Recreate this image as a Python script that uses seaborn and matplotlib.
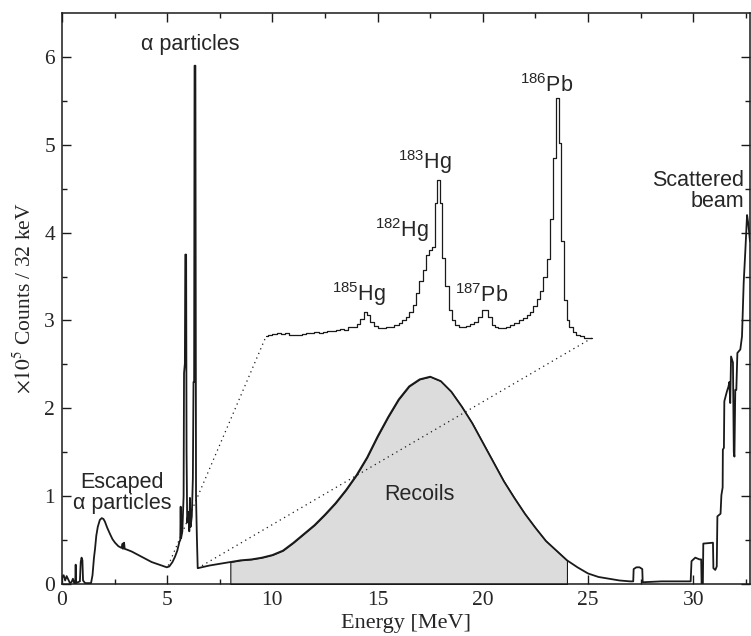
import numpy as np
import pandas as pd
import matplotlib
matplotlib.use('Agg')
import matplotlib.pyplot as plt
import seaborn as sns

# Spectrum (energy in MeV, counts in units of 1e5 / 32 keV)
energia = [0.00, 0.08, 0.15, 0.22, 0.30, 0.38, 0.45, 0.52, 0.58, 0.63, 0.65, 0.67, 0.75, 0.85,
           0.89, 0.93, 0.97, 1.00, 1.10, 1.38,
           1.45, 1.52, 1.57, 1.63, 1.70, 1.80, 1.89, 1.97, 2.04, 2.15, 2.28, 2.40, 2.52, 2.68,
           2.84, 2.88, 2.90, 2.95, 2.98, 3.10, 3.31, 3.55, 3.79, 4.02, 4.26, 4.50, 4.74, 4.98,
           5.10, 5.25, 5.37, 5.48, 5.58, 5.62, 5.64, 5.66, 5.72, 5.78, 5.80, 5.84, 5.86, 5.90,
           5.92, 5.95, 6.01, 6.05, 6.08, 6.11, 6.17, 6.22, 6.25, 6.28, 6.30, 6.34, 6.37, 6.41, 6.45,
           7.00, 7.50, 8.00, 8.50, 9.00, 9.50, 10.00, 10.50, 11.00, 11.50, 12.00, 12.50, 13.00,
           13.50, 14.00, 14.50, 15.00, 15.50, 16.00, 16.50, 17.00, 17.50, 18.00, 18.50, 19.00,
           19.50, 20.00, 20.50, 21.00, 21.50, 22.00, 22.50, 23.00, 23.50, 24.00, 24.50, 25.00,
           25.50, 26.00, 26.50, 27.00, 27.15, 27.17, 27.30, 27.45, 27.58, 27.60, 28.50,
           29.88, 29.92, 30.10, 30.30, 30.38, 30.40, 30.46, 30.48, 30.94, 30.96, 31.05, 31.12,
           31.15, 31.30, 31.34, 31.40, 31.41, 31.46, 31.48, 31.60, 31.68, 31.72, 31.76, 31.80,
           31.89, 31.93, 31.96, 32.00, 32.05, 32.10, 32.24, 32.32, 32.40, 32.48, 32.56, 32.62, 32.70]
cuentas = [0.07, 0.10, 0.04, 0.09, 0.05, 0.01, 0.02, 0.06, 0.01, 0.01, 0.22, 0.01, 0.02, 0.03,
           0.25, 0.30, 0.27, 0.04, 0.01, 0.01,
           0.10, 0.30, 0.40, 0.55, 0.65, 0.73, 0.75, 0.74, 0.71, 0.64, 0.57, 0.51, 0.47, 0.43,
           0.41, 0.46, 0.40, 0.47, 0.40, 0.39, 0.37, 0.34, 0.31, 0.28, 0.25, 0.23, 0.21, 0.19,
           0.20, 0.25, 0.31, 0.38, 0.48, 0.50, 0.88, 0.52, 0.60, 1.00, 2.40, 2.51, 3.75, 3.75,
           1.50, 0.70, 0.82, 0.60, 0.98, 0.65, 0.77, 1.20, 2.30, 2.30, 5.90, 5.90, 1.00, 0.54, 0.18,
           0.21, 0.23, 0.25, 0.27, 0.28, 0.30, 0.33, 0.38, 0.47, 0.57, 0.67, 0.79, 0.92,
           1.07, 1.24, 1.44, 1.68, 1.90, 2.10, 2.25, 2.33, 2.36, 2.31, 2.19, 2.02,
           1.83, 1.61, 1.39, 1.17, 0.98, 0.80, 0.64, 0.49, 0.38, 0.27, 0.19, 0.12,
           0.08, 0.06, 0.04, 0.03, 0.03, 0.17, 0.19, 0.19, 0.17, 0.02, 0.03,
           0.03, 0.26, 0.30, 0.28, 0.28, 0.00, 0.00, 0.46, 0.47, 0.18, 0.16, 0.20,
           0.77, 0.80, 1.01, 1.10, 1.53, 1.55, 2.08, 2.19, 2.25, 2.30, 2.06, 2.59,
           2.52, 1.50, 1.45, 2.21, 2.21, 2.63, 2.67, 2.82, 3.43, 3.80, 4.20, 4.10, 3.90]

# Magnified region drawn as an inset histogram on the same axes
zoom_energia = [9.70, 9.90, 10.10, 10.30, 10.50, 10.70, 10.90, 11.10, 11.30, 11.50, 11.70,
                11.90, 12.10, 12.30, 12.50, 12.70, 12.90, 13.10, 13.30, 13.50, 13.70, 13.90,
                14.10, 14.26, 14.42, 14.58, 14.74, 14.90, 15.10, 15.30, 15.50, 15.70, 15.90,
                16.10, 16.26, 16.42, 16.58, 16.74, 16.90, 17.06, 17.22, 17.38, 17.54, 17.66,
                17.78, 17.90, 18.02, 18.14, 18.30, 18.46, 18.62, 18.78, 18.94, 19.10, 19.30,
                19.50, 19.70, 19.86, 20.02, 20.18, 20.34, 20.50, 20.66, 20.82, 21.00, 21.20,
                21.40, 21.60, 21.80, 22.00, 22.16, 22.32, 22.48, 22.64, 22.80, 22.96, 23.12,
                23.28, 23.44, 23.56, 23.68, 23.80, 23.92, 24.04, 24.20, 24.36, 24.52, 24.70,
                24.90, 25.19]
zoom_cuentas = [2.82, 2.83, 2.85, 2.86, 2.85, 2.86, 2.84, 2.84, 2.83, 2.85, 2.86,
                2.86, 2.87, 2.86, 2.87, 2.88, 2.88, 2.89, 2.90, 2.89, 2.92, 2.93,
                2.96, 3.02, 3.10, 3.06, 2.98, 2.94, 2.91, 2.91, 2.92, 2.93, 2.95,
                2.97, 3.00, 3.04, 3.10, 3.18, 3.31, 3.45, 3.58, 3.75, 3.80, 3.84,
                4.34, 4.60, 4.34, 3.71, 3.39, 3.12, 3.00, 2.95, 2.93, 2.93, 2.94,
                2.96, 2.98, 3.04, 3.12, 3.12, 3.04, 2.95, 2.92, 2.91, 2.91, 2.93,
                2.95, 2.97, 3.00, 3.03, 3.06, 3.10, 3.16, 3.24, 3.34, 3.50, 3.70,
                4.15, 4.85, 5.53, 5.02, 3.90, 3.23, 3.00, 2.92, 2.87, 2.84, 2.82,
                2.80, 2.80]

# Dotted guide lines joining the inset to the spectrum
guia_sup_x = [5.05, 9.70]
guia_sup_y = [0.21, 2.82]
guia_inf_x = [6.45, 25.19]
guia_inf_y = [0.18, 2.80]

ventana_recoils = [8.0, 24.0]

isotopos = ['$^{185}$Hg', '$^{182}$Hg', '$^{183}$Hg', '$^{187}$Pb', '$^{186}$Pb']
isotopos_x = [14.1, 16.15, 17.25, 19.95, 23.05]
isotopos_y = [3.22, 3.95, 4.72, 3.21, 5.60]

df = pd.DataFrame({'energia': energia, 'cuentas': cuentas})
df_zoom = pd.DataFrame({'energia': zoom_energia, 'cuentas': zoom_cuentas})

sns.set_style('ticks')
plt.rcParams['font.family'] = ['Liberation Sans', 'DejaVu Sans']
plt.rcParams['mathtext.fontset'] = 'custom'
plt.rcParams['mathtext.rm'] = 'Liberation Sans'
plt.rcParams['mathtext.it'] = 'Liberation Sans:italic'

fig = plt.figure(figsize=(7.51, 6.36), dpi=100)
ax = fig.add_axes([62 / 751, 52 / 636, 688 / 751, 571 / 636])

color_linea = '#1a1a1a'

# Recoil window shaded
sel = (df['energia'] >= ventana_recoils[0]) & (df['energia'] <= ventana_recoils[1])
ax.fill_between(df.loc[sel, 'energia'], 0, df.loc[sel, 'cuentas'],
                facecolor='#dcdcdc', edgecolor=color_linea, linewidth=0.8, zorder=1)

sns.lineplot(data=df, x='energia', y='cuentas', estimator=None, sort=False,
             color=color_linea, linewidth=1.3, ax=ax, zorder=3)
sns.lineplot(data=df_zoom, x='energia', y='cuentas', estimator=None, sort=False,
             color=color_linea, linewidth=0.9, drawstyle='steps-mid', ax=ax, zorder=3)

ax.plot(guia_sup_x, guia_sup_y, color=color_linea, linestyle=(0, (1, 3)), linewidth=0.9, zorder=2)
ax.plot(guia_inf_x, guia_inf_y, color=color_linea, linestyle=(0, (1, 3)), linewidth=0.9, zorder=2)

# Labels
fs = 15.5
ax.text(6.1, 6.14, 'α particles', ha='center', va='center', fontsize=fs)
ax.text(2.85, 1.04, 'Escaped\nα particles', ha='center', va='center', fontsize=fs,
        linespacing=1.0)
ax.text(32.42, 4.47, 'Scattered\nbeam', ha='right', va='center', fontsize=fs, linespacing=1.0)
ax.text(17.0, 1.02, 'Recoils', ha='center', va='center', fontsize=fs)
for etiqueta, ex, ey in zip(isotopos, isotopos_x, isotopos_y):
    ax.text(ex, ey, etiqueta, ha='center', va='baseline', fontsize=fs)

ax.set_xlim(0, 32.7)
ax.set_ylim(0, 6.5)
ax.set_xticks([0, 5, 10, 15, 20, 25, 30])
ax.set_xticks(np.arange(2.5, 32.7, 5), minor=True)
ax.set_yticks([0, 1, 2, 3, 4, 5, 6])
ax.set_yticks(np.arange(0.5, 6.5, 1), minor=True)
ax.tick_params(which='both', direction='in', top=True, right=True, width=1.0, color=color_linea)
ax.tick_params(which='major', length=6.5, pad=5)
ax.tick_params(which='minor', length=3.5)
for lbl in ax.get_xticklabels() + ax.get_yticklabels():
    lbl.set_fontfamily('Liberation Serif')
    lbl.set_fontsize(15.5)
for sp in ax.spines.values():
    sp.set_linewidth(1.1)
    sp.set_color(color_linea)

ax.set_xlabel('Energy [MeV]', fontfamily='Liberation Serif', fontsize=16, labelpad=3)
ax.set_ylabel('$\\times10^5$ Counts / 32 keV', fontfamily='Liberation Serif', fontsize=15.5,
              math_fontfamily='stix', labelpad=6)

fig.savefig('out.png', dpi=100)
